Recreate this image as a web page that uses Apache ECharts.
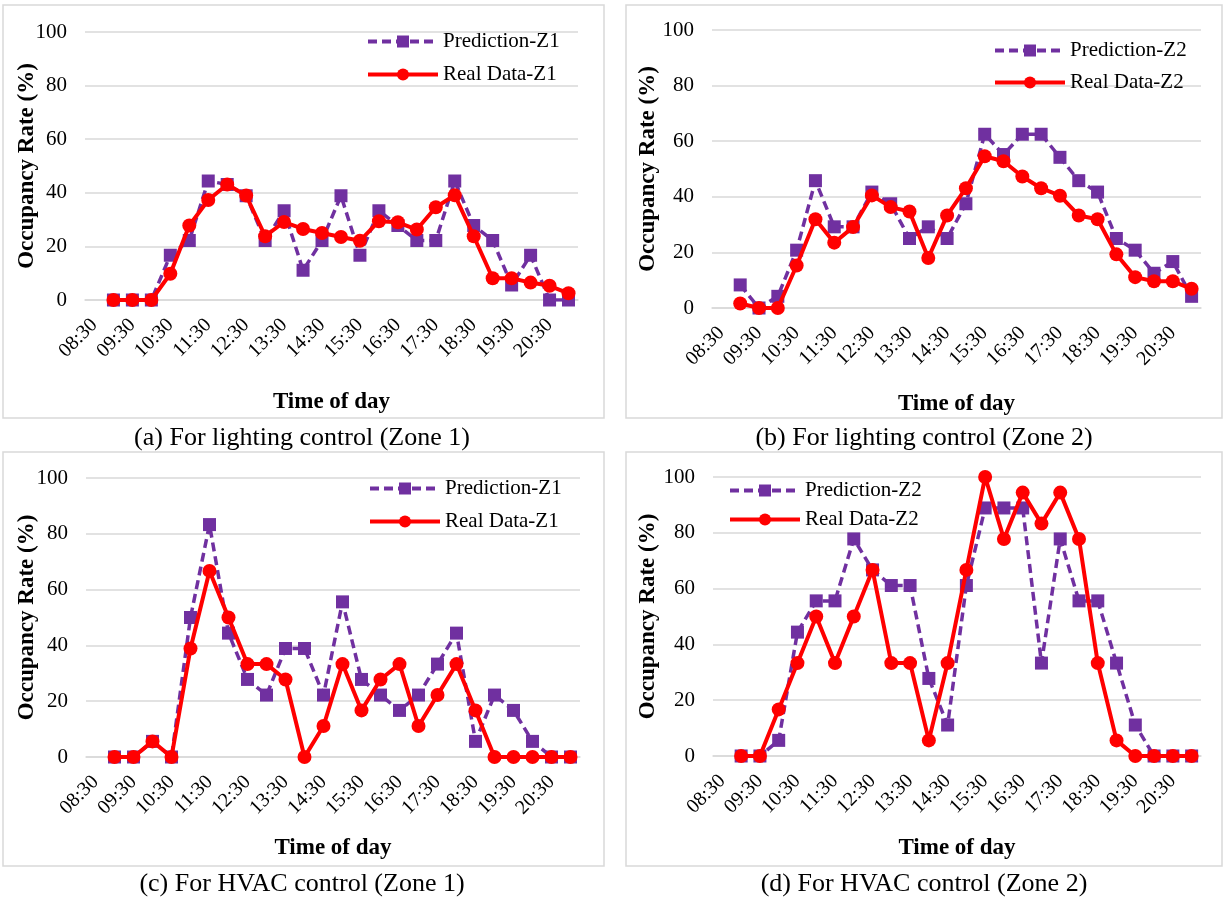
<!DOCTYPE html>
<html>
<head>
<meta charset="utf-8">
<script src="https://cdn.jsdelivr.net/npm/echarts@6/dist/echarts.min.js"></script>
<style>
  html, body { margin: 0; padding: 0; background: #fff; }
  #chart { width: 1225px; height: 900px; }
</style>
</head>
<body>
<div id="chart"></div>
<script>
// Half-hour time slots, 08:30 to 21:00 (first slot has no reading)
const times = ['08:30','09:00','09:30','10:00','10:30','11:00','11:30','12:00','12:30','13:00',
  '13:30','14:00','14:30','15:00','15:30','16:00','16:30','17:00','17:30','18:00',
  '18:30','19:00','19:30','20:00','20:30','21:00'];
const yTicks = [0, 20, 40, 60, 80, 100];

// (a) Lighting control, Zone 1
const lightPredZ1 = [null, 0, 0, 0, 16.7, 22.2, 44.4, 43.1, 38.9, 22.2, 33.3, 11.1, 22.2, 38.9, 16.7, 33.3, 27.8, 22.2, 22.2, 44.4, 27.8, 22.2, 5.6, 16.7, 0, 0];
const lightRealZ1 = [null, 0, 0, 0, 9.8, 27.8, 37.3, 43.1, 39.0, 23.8, 29.1, 26.5, 25.0, 23.5, 22.1, 29.4, 29.0, 26.3, 34.6, 39.1, 23.8, 8.1, 8.1, 6.5, 5.3, 2.5];
// (b) Lighting control, Zone 2
const lightPredZ2 = [null, 8.3, 0, 4.2, 20.8, 45.8, 29.2, 29.2, 41.7, 37.5, 25.0, 29.2, 25.0, 37.5, 62.5, 55.2, 62.5, 62.5, 54.2, 45.8, 41.7, 25.0, 20.8, 12.5, 16.7, 4.2];
const lightRealZ2 = [null, 1.6, 0, 0, 15.3, 31.9, 23.5, 29.1, 40.5, 36.3, 34.7, 18.0, 33.3, 43.1, 54.6, 52.8, 47.3, 43.1, 40.4, 33.3, 31.9, 19.3, 11.1, 9.6, 9.6, 6.9];
// (c) HVAC control, Zone 1
const hvacPredZ1 = [null, 0, 0, 5.6, 0, 50.0, 83.3, 44.4, 27.8, 22.2, 38.9, 38.9, 22.2, 55.6, 27.8, 22.2, 16.7, 22.2, 33.3, 44.4, 5.6, 22.2, 16.7, 5.6, 0, 0];
const hvacRealZ1 = [null, 0, 0, 5.6, 0, 38.9, 66.7, 50.0, 33.3, 33.3, 27.8, 0, 11.1, 33.3, 16.7, 27.8, 33.3, 11.1, 22.2, 33.3, 16.7, 0, 0, 0, 0, 0];
// (d) HVAC control, Zone 2
const hvacPredZ2 = [null, 0, 0, 5.6, 44.4, 55.6, 55.6, 77.8, 66.7, 61.1, 61.1, 27.8, 11.1, 61.1, 88.9, 88.9, 88.9, 33.3, 77.8, 55.6, 55.6, 33.3, 11.1, 0, 0, 0];
const hvacRealZ2 = [null, 0, 0, 16.7, 33.3, 50.0, 33.3, 50.0, 66.7, 33.3, 33.3, 5.6, 33.3, 66.7, 100, 77.8, 94.4, 83.3, 94.4, 77.8, 33.3, 5.6, 0, 0, 0, 0];

const captions = [
  '(a) For lighting control (Zone 1)',
  '(b) For lighting control (Zone 2)',
  '(c) For HVAC control (Zone 1)',
  '(d) For HVAC control (Zone 2)'
];

const FONT = '"Liberation Serif", "Times New Roman", serif';
const PURPLE = '#7030A0';
const RED = '#FF0000';
const GRID_GRAY = '#D9D9D9';

// Panel frames, plot rectangles, axis-name gaps, legend anchors and caption centres
const panels = [
  { box: [3, 5, 601, 413],   grid: { left: 85,  top: 32,  width: 493, height: 268 }, yGap: 46, xGap: 91, legend: { left: 361, top: 26,  gap: 12 }, cap: [302, 438], pred: lightPredZ1, real: lightRealZ1, zone: 'Z1' },
  { box: [626, 5, 596, 413], grid: { left: 712, top: 30,  width: 489, height: 278 }, yGap: 52, xGap: 85, legend: { left: 988, top: 35,  gap: 11 }, cap: [924, 438], pred: lightPredZ2, real: lightRealZ2, zone: 'Z2' },
  { box: [3, 452, 601, 414], grid: { left: 86,  top: 478, width: 494, height: 279 }, yGap: 47, xGap: 80, legend: { left: 363, top: 473, gap: 12 }, cap: [302, 884], pred: hvacPredZ1, real: hvacRealZ1, zone: 'Z1' },
  { box: [626, 452, 596, 414], grid: { left: 713, top: 477, width: 488, height: 279 }, yGap: 53, xGap: 81, legend: { left: 723, top: 475, gap: 8 }, cap: [924, 884], pred: hvacPredZ2, real: hvacRealZ2, zone: 'Z2' }
];

const grids = [], xAxes = [], yAxes = [], series = [], legends = [], graphics = [];

panels.forEach((p, i) => {
  graphics.push({
    type: 'rect', silent: true, z: -1,
    shape: { x: p.box[0], y: p.box[1], width: p.box[2], height: p.box[3] },
    style: { fill: '#fff', stroke: GRID_GRAY, lineWidth: 1.5 }
  });
  graphics.push({
    type: 'text', silent: true,
    x: p.cap[0], y: p.cap[1],
    style: { text: captions[i], font: '26px ' + FONT, fill: '#000', textAlign: 'center', textVerticalAlign: 'middle' }
  });

  grids.push(Object.assign({ containLabel: false }, p.grid));

  xAxes.push({
    type: 'category', gridIndex: i, data: times, boundaryGap: true,
    name: 'Time of day', nameLocation: 'middle', nameGap: p.xGap, nameMoveOverlap: false,
    nameTextStyle: { fontFamily: FONT, fontSize: 23, fontWeight: 'bold', color: '#000' },
    axisLine: { show: true, lineStyle: { color: GRID_GRAY, width: 1.5 } },
    axisTick: { show: false },
    axisLabel: { interval: 1, rotate: 45, margin: 22, fontFamily: FONT, fontSize: 20, color: '#000' }
  });

  yAxes.push({
    type: 'value', gridIndex: i, min: yTicks[0], max: yTicks[yTicks.length - 1], interval: 20,
    name: 'Occupancy Rate (%)', nameLocation: 'middle', nameGap: p.yGap, nameRotate: 90, nameMoveOverlap: false,
    nameTextStyle: { fontFamily: FONT, fontSize: 23, fontWeight: 'bold', color: '#000' },
    axisLine: { show: false }, axisTick: { show: false },
    axisLabel: { margin: 18, fontFamily: FONT, fontSize: 21, color: '#000' },
    splitLine: { lineStyle: { color: GRID_GRAY, width: 1.5 } }
  });

  const predName = 'Prediction-' + p.zone;
  const realName = 'Real Data-' + p.zone;
  series.push({
    name: predName, type: 'line', xAxisIndex: i, yAxisIndex: i, data: p.pred,
    symbol: 'rect', symbolSize: 13, showAllSymbol: true, z: 2,
    lineStyle: { color: PURPLE, width: 3.5, type: [9, 5] },
    itemStyle: { color: PURPLE }
  });
  series.push({
    name: realName, type: 'line', xAxisIndex: i, yAxisIndex: i, data: p.real,
    symbol: 'circle', symbolSize: 14, showAllSymbol: true, z: 3,
    lineStyle: { color: RED, width: 4 },
    itemStyle: { color: RED }
  });

  legends.push({
    orient: 'vertical', left: p.legend.left, top: p.legend.top,
    itemWidth: 70, itemHeight: 15, itemGap: p.legend.gap,
    selectedMode: false,
    lineStyle: { width: 4 },
    textStyle: { fontFamily: FONT, fontSize: 21, color: '#000' },
    data: [predName, realName]
  });
});

const chart = echarts.init(document.getElementById('chart'), null, { renderer: 'canvas' });
chart.setOption({
  animation: false,
  backgroundColor: '#fff',
  grid: grids,
  xAxis: xAxes,
  yAxis: yAxes,
  legend: legends,
  series: series,
  graphic: graphics
});
</script>
</body>
</html>
